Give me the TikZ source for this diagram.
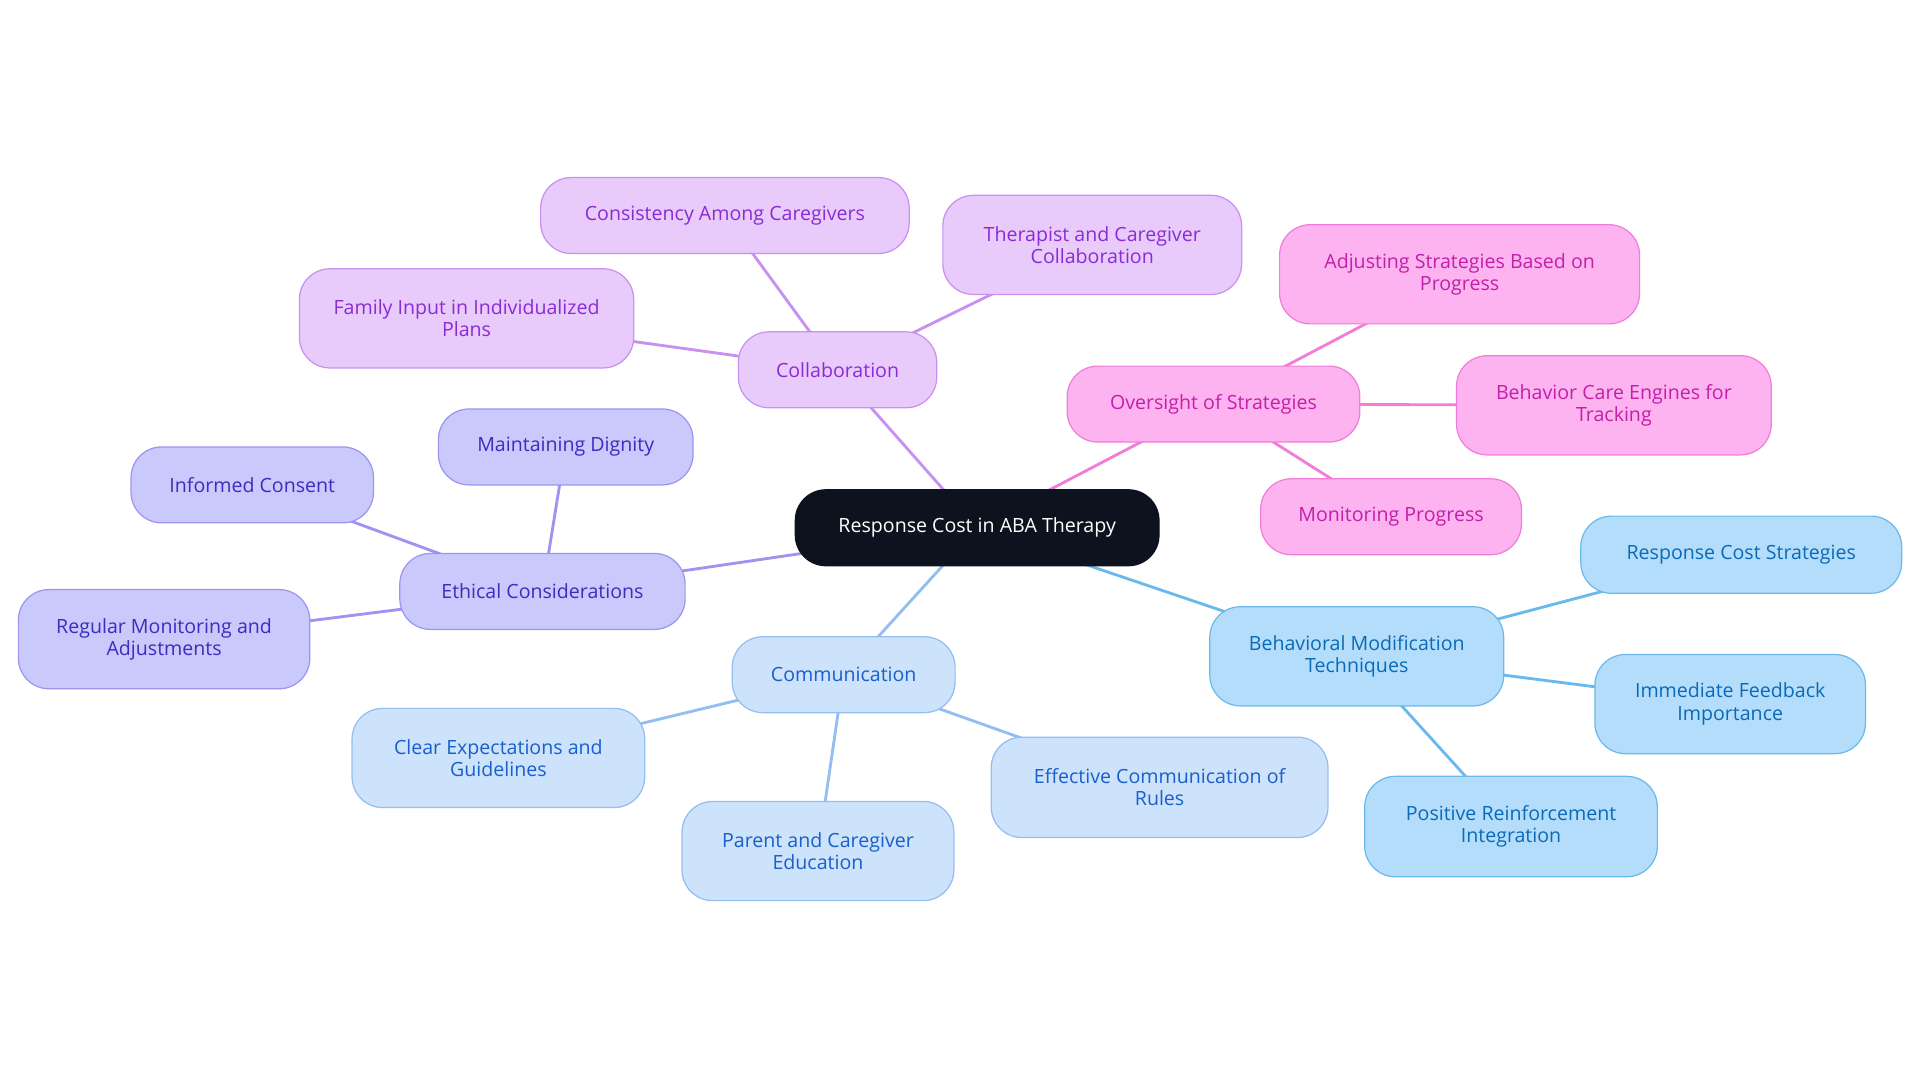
\documentclass[tikz,border=0pt]{standalone}
\usepackage{fontspec}
\setmainfont{Open Sans}
\usetikzlibrary{backgrounds}
\definecolor{pF}{HTML}{E8CBFB}\definecolor{pD}{HTML}{C890F0}\definecolor{pT}{HTML}{8A2BD6}
\definecolor{kF}{HTML}{FDB3F0}\definecolor{kD}{HTML}{F07DD8}\definecolor{kT}{HTML}{C41FA8}
\definecolor{iF}{HTML}{C9C9FC}\definecolor{iD}{HTML}{9E94F0}\definecolor{iT}{HTML}{3A2DBF}
\definecolor{cF}{HTML}{CDE2FB}\definecolor{cD}{HTML}{94BDF0}\definecolor{cT}{HTML}{1A5FCB}
\definecolor{sF}{HTML}{B4DDFB}\definecolor{sD}{HTML}{6AB9EC}\definecolor{sT}{HTML}{0A6AB8}
\definecolor{root}{HTML}{0D131E}
\tikzset{
 box/.style={draw, line width=0.6pt, rounded corners=15pt, align=center, inner sep=0pt, font=\fontsize{9.6}{11}\selectfont},
 pb/.style={box, fill=pF, draw=pD, text=pT},
 kb/.style={box, fill=kF, draw=kD, text=kT},
 ib/.style={box, fill=iF, draw=iD, text=iT},
 cb/.style={box, fill=cF, draw=cD, text=cT},
 sb/.style={box, fill=sF, draw=sD, text=sT},
 ln/.style={line width=1.4pt},
}
\newcommand{\bx}[7]{\node[#1, minimum width=#4*0.6pt, minimum height=#5*0.6pt] (#6) at (#2,#3) {#7};}
\begin{document}
\begin{tikzpicture}[x=0.6pt,y=-0.6pt]
\useasboundingbox (0,0) rectangle (1568,884);
\bx{box,fill=root,draw=root,text=white}{798}{431}{297}{62}{r}{Response Cost in ABA Therapy}
\bx{pb}{684}{302}{162}{62}{col}{Collaboration}
\bx{pb}{592}{176}{301}{62}{con}{Consistency Among Caregivers}
\bx{pb}{892}{200}{244}{81}{ther}{Therapist and Caregiver\\Collaboration}
\bx{pb}{381}{260}{273}{81}{fam}{Family Input in Individualized\\Plans}
\bx{kb}{991}{330}{239}{62}{ov}{Oversight of Strategies}
\bx{kb}{1192}{224}{294}{81}{adj}{Adjusting Strategies Based on\\Progress}
\bx{kb}{1318}{331}{257}{81}{bce}{Behavior Care Engines for\\Tracking}
\bx{kb}{1136}{422}{213}{62}{mon}{Monitoring Progress}
\bx{ib}{443}{483}{233}{62}{eth}{Ethical Considerations}
\bx{ib}{462}{365}{208}{62}{dig}{Maintaining Dignity}
\bx{ib}{206}{396}{198}{62}{inf}{Informed Consent}
\bx{ib}{134}{522}{238}{81}{reg}{Regular Monitoring and\\Adjustments}
\bx{cb}{689}{551}{182}{62}{com}{Communication}
\bx{cb}{407}{619}{239}{81}{cle}{Clear Expectations and\\Guidelines}
\bx{cb}{668}{695}{222}{81}{par}{Parent and Caregiver\\Education}
\bx{cb}{947}{643}{275}{82}{eff}{Effective Communication of\\Rules}
\bx{sb}{1108}{536}{240}{81}{beh}{Behavioral Modification\\Techniques}
\bx{sb}{1422}{453}{262}{63}{rcs}{Response Cost Strategies}
\bx{sb}{1413}{575}{221}{81}{imm}{Immediate Feedback\\Importance}
\bx{sb}{1234}{675}{239}{82}{pos}{Positive Reinforcement\\Integration}
\begin{scope}[on background layer]
\draw[ln,pD] (r.center)--(col.center) (col.center)--(con.center) (col.center)--(ther.center) (col.center)--(fam.center);
\draw[ln,kD] (r.center)--(ov.center) (ov.center)--(adj.center) (ov.center)--(bce.center) (ov.center)--(mon.center);
\draw[ln,iD] (r.center)--(eth.center) (eth.center)--(dig.center) (eth.center)--(inf.center) (eth.center)--(reg.center);
\draw[ln,cD] (r.center)--(com.center) (com.center)--(cle.center) (com.center)--(par.center) (com.center)--(eff.center);
\draw[ln,sD] (r.center)--(beh.center) (beh.center)--(rcs.center) (beh.center)--(imm.center) (beh.center)--(pos.center);
\end{scope}
\end{tikzpicture}
\end{document}
